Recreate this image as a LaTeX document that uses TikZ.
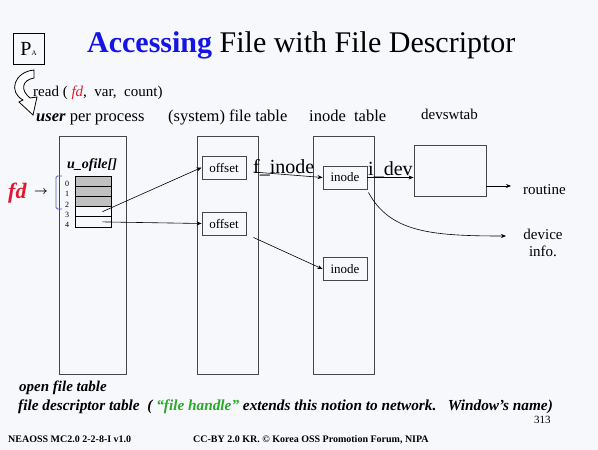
\documentclass[tikz,border=0pt]{standalone}
\usepackage{amsmath}
\usepackage{fontspec}
\setmainfont{Liberation Serif}
\usepackage{tikz}
\usepackage{xcolor}
\usetikzlibrary{positioning, arrows.meta}
\definecolor{slideBg}{RGB}{247,248,252}
\definecolor{lineGray}{RGB}{70,70,70}
\definecolor{titleBlue}{RGB}{20,20,230}
\definecolor{fdRed}{RGB}{225,25,45}
\definecolor{handleGreen}{RGB}{40,170,40}
\definecolor{bracketBlue}{RGB}{90,90,200}
\definecolor{cellGray}{RGB}{192,192,192}

\begin{document}
\begin{tikzpicture}[x=1pt, y=-1pt,
  col/.style={draw=lineGray, line width=1pt, inner sep=0pt, outer sep=0pt, minimum height=238pt},
  entry/.style={draw=lineGray, line width=0.9pt, minimum width=44pt, minimum height=23pt, inner sep=0pt, font=\fontsize{13}{15}\selectfont},
  cell/.style={draw=black, line width=0.8pt, minimum width=36pt, minimum height=10.2pt, inner sep=0pt},
  txt/.style={anchor=base west, inner sep=0pt},
  head/.style={txt, font=\fontsize{16.5}{18}\selectfont},
  arr/.style={-{Stealth[length=5pt,width=4pt]}, line width=0.6pt},
]
  \fill[slideBg] (0,0) rectangle (598,450);
  \useasboundingbox (0,0) rectangle (598,450);

  % title and process box
  \node[txt, font=\fontsize{30}{34}\selectfont] (title) at (87,52) {{\color{titleBlue}\bfseries Accessing} File with File Descriptor};
  \node[draw, line width=0.8pt, minimum size=31pt, inner sep=0pt] (proc) at (28.5,48.5) {{\fontsize{20}{20}\selectfont P}{\fontsize{7}{7}\selectfont A}};
  \draw[line width=0.8pt, fill=white] (34,70) .. controls (14,72) and (8,92) .. (23,100)
    -- (19,102) -- (33,115) -- (37,97) -- (30,98)
    .. controls (20,90) and (22,80) .. (34,78) -- cycle;
  \node[txt, font=\fontsize{15}{17}\selectfont] (call) at (33,96) {read ( {\color{fdRed}\itshape fd},\ \ var,\ \ count)};

  % column headings
  \node[head] (userhd) at (36,121) {\textbf{\textit{user}} per process};
  \node[head] (filehd) at (168,121) {(system) file table};
  \node[head] (inodehd) at (309,121) {inode\ \ table};
  \node[txt, font=\fontsize{15}{17}\selectfont] (devhd) at (421,119) {devswtab};

  % tables
  \node[col, minimum width=67pt] (usercol) at (92.5,255) {};
  \node[col, minimum width=61pt] (filecol) at (227.5,255) {};
  \node[col, minimum width=61pt] (inodecol) at (343.5,255) {};
  \node[draw=lineGray, line width=0.9pt, minimum width=72pt, minimum height=51pt, inner sep=0pt] (devsw) at (450,170.5) {};

  % u_ofile array
  \node[txt, font=\fontsize{14}{16}\selectfont\bfseries\itshape] (ofile) at (67,168) {u\_ofile[]};
  \foreach \i in {0,...,4} {
    \ifnum\i<3
      \node[cell, fill=cellGray] (c\i) at (93,181.1+10.2*\i) {};
    \else
      \node[cell] (c\i) at (93,181.1+10.2*\i) {};
    \fi
    \node[font=\fontsize{8}{8}\selectfont, inner sep=0pt] (n\i) at (67,184+10.2*\i) {\i};
  }
  \draw[bracketBlue, line width=0.8pt, rounded corners=1.5pt] (62,176) -- (56,176) -- (56,209) -- (62,209);
  \node[txt, font=\fontsize{22}{24}\selectfont\bfseries\itshape, text=fdRed] (fd) at (8,198) {fd};
  \node[font=\fontsize{13}{13}\selectfont, inner sep=0pt] (fdarrow) at (41,192) {$\boldsymbol{\rightarrow}$};

  % entries
  \node[entry] (off1) at (224,167.5) {offset};
  \node[entry] (off2) at (224,223.5) {offset};
  \node[entry] (inode1) at (345,177.5) {inode};
  \node[entry] (inode2) at (345,269) {inode};
  \node[txt, font=\fontsize{20}{22}\selectfont] (finode) at (253,173) {f\_inode};
  \node[txt, font=\fontsize{20}{22}\selectfont] (idev) at (368,175) {i\_dev};
  \node[txt, font=\fontsize{15}{17}\selectfont] (routine) at (523,194) {routine};
  \node[font=\fontsize{15}{17}\selectfont, align=center, inner sep=0pt] (devinfo) at (543,243) {device\\info.};
  \coordinate (toRoutine) at (511,186);
  \coordinate (toDevice) at (506,236);

  % pointers
  \draw[arr] ([xshift=-9pt]c3.east) -- (off1.west);
  \draw[arr] ([xshift=-9pt]c4.east) -- (off2.west);
  \draw[arr] ([xshift=7pt,yshift=-4.5pt]off1.east) -- (inode1.west);
  \draw[arr] ([xshift=7pt,yshift=-2pt]off2.south east) -- (inode2.west);
  \draw[arr] (inode1.east) -- (inode1.east -| devsw.west);
  \draw[arr] (devsw.east |- toRoutine) -- (toRoutine);
  \draw[arr] ([xshift=1pt,yshift=-3pt]inode1.south east) .. controls (390,232) and (430,236) .. (toDevice);

  % notes
  \node[txt, font=\fontsize{15}{17}\selectfont\bfseries\itshape] (note1) at (19,391) {open file table};
  \node[txt, font=\fontsize{15.3}{17}\selectfont\bfseries\itshape] (note2) at (18,410) {file descriptor table\ \ ( {\color{handleGreen}“file handle”} extends this notion to network.\ \ \ Window’s name)};
  \node[txt, font=\fontsize{11}{13}\selectfont] (page) at (534,423) {313};
  \node[txt, font=\fontsize{10}{12}\selectfont\bfseries] (foot1) at (8,442) {NEAOSS MC2.0 2-2-8-I v1.0};
  \node[txt, font=\fontsize{10}{12}\selectfont\bfseries] (foot2) at (193,442) {CC-BY 2.0 KR. © Korea OSS Promotion Forum, NIPA};
\end{tikzpicture}
\end{document}
